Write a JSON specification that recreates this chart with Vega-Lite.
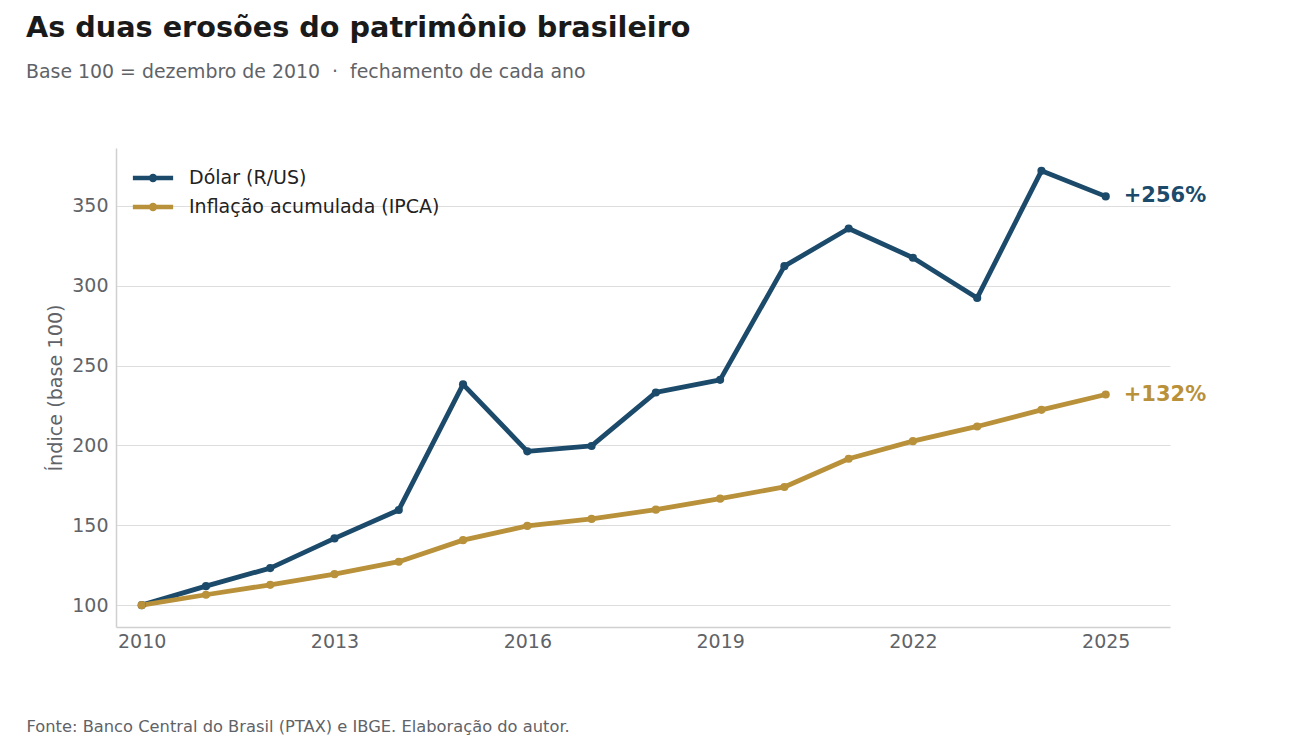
{
  "$schema": "https://vega.github.io/schema/vega-lite/v6.json",
  "width": 1054,
  "height": 479,
  "autosize": {"type": "none"},
  "padding": {"left": 116, "top": 148, "right": 130, "bottom": 119},
  "background": "white",
  "title": {
    "text": "As duas erosões do patrimônio brasileiro",
    "subtitle": "Base 100 = dezembro de 2010 \u00a0·\u00a0 fechamento de cada ano",
    "anchor": "start",
    "frame": "group",
    "dx": -90,
    "offset": 66,
    "font": "DejaVu Sans",
    "fontSize": 28.7,
    "fontWeight": "bold",
    "color": "#1a1a1a",
    "subtitleFont": "DejaVu Sans",
    "subtitleFontSize": 18.9,
    "subtitleColor": "#5f6368",
    "subtitlePadding": 20
  },
  "data": {
    "values": [
      {"ano": 2010, "serie": "Dólar (R/US)", "indice": 100},
      {"ano": 2011, "serie": "Dólar (R/US)", "indice": 111.9},
      {"ano": 2012, "serie": "Dólar (R/US)", "indice": 123.2},
      {"ano": 2013, "serie": "Dólar (R/US)", "indice": 141.8},
      {"ano": 2014, "serie": "Dólar (R/US)", "indice": 159.6},
      {"ano": 2015, "serie": "Dólar (R/US)", "indice": 238.3},
      {"ano": 2016, "serie": "Dólar (R/US)", "indice": 196.3},
      {"ano": 2017, "serie": "Dólar (R/US)", "indice": 199.7},
      {"ano": 2018, "serie": "Dólar (R/US)", "indice": 233.2},
      {"ano": 2019, "serie": "Dólar (R/US)", "indice": 241.1},
      {"ano": 2020, "serie": "Dólar (R/US)", "indice": 312.3},
      {"ano": 2021, "serie": "Dólar (R/US)", "indice": 335.9},
      {"ano": 2022, "serie": "Dólar (R/US)", "indice": 317.6},
      {"ano": 2023, "serie": "Dólar (R/US)", "indice": 292.4},
      {"ano": 2024, "serie": "Dólar (R/US)", "indice": 372.0},
      {"ano": 2025, "serie": "Dólar (R/US)", "indice": 356.0, "rotulo": "+256%"},
      {"ano": 2010, "serie": "Inflação acumulada (IPCA)", "indice": 100},
      {"ano": 2011, "serie": "Inflação acumulada (IPCA)", "indice": 106.5},
      {"ano": 2012, "serie": "Inflação acumulada (IPCA)", "indice": 112.7},
      {"ano": 2013, "serie": "Inflação acumulada (IPCA)", "indice": 119.4},
      {"ano": 2014, "serie": "Inflação acumulada (IPCA)", "indice": 127.2},
      {"ano": 2015, "serie": "Inflação acumulada (IPCA)", "indice": 140.7},
      {"ano": 2016, "serie": "Inflação acumulada (IPCA)", "indice": 149.6},
      {"ano": 2017, "serie": "Inflação acumulada (IPCA)", "indice": 154.0},
      {"ano": 2018, "serie": "Inflação acumulada (IPCA)", "indice": 159.8},
      {"ano": 2019, "serie": "Inflação acumulada (IPCA)", "indice": 166.7},
      {"ano": 2020, "serie": "Inflação acumulada (IPCA)", "indice": 174.0},
      {"ano": 2021, "serie": "Inflação acumulada (IPCA)", "indice": 191.7},
      {"ano": 2022, "serie": "Inflação acumulada (IPCA)", "indice": 202.7},
      {"ano": 2023, "serie": "Inflação acumulada (IPCA)", "indice": 211.9},
      {"ano": 2024, "serie": "Inflação acumulada (IPCA)", "indice": 222.3},
      {"ano": 2025, "serie": "Inflação acumulada (IPCA)", "indice": 231.9, "rotulo": "+132%"}
    ]
  },
  "encoding": {
    "x": {
      "field": "ano",
      "type": "quantitative",
      "scale": {"domain": [2009.6, 2026], "nice": false, "zero": false},
      "axis": {
        "values": [2010, 2013, 2016, 2019, 2022, 2025],
        "format": "d",
        "grid": false,
        "ticks": false,
        "labelPadding": 5,
        "title": "Fonte: Banco Central do Brasil (PTAX) e IBGE. Elaboração do autor.",
        "titleX": -90,
        "titleY": 99,
        "titleAlign": "left",
        "titleAnchor": "start",
        "titleBaseline": "middle",
        "titleFontSize": 16.3,
        "titleFontWeight": "normal",
        "titleColor": "#5f6368"
      }
    },
    "y": {
      "field": "indice",
      "type": "quantitative",
      "scale": {"domain": [86.3, 386.3], "nice": false, "zero": false},
      "axis": {
        "values": [100, 150, 200, 250, 300, 350],
        "grid": true,
        "ticks": false,
        "labelPadding": 8,
        "title": "Índice (base 100)",
        "titleFontSize": 19.2,
        "titleFontWeight": "normal",
        "titleColor": "#5f6368",
        "titlePadding": 6
      }
    },
    "color": {
      "field": "serie",
      "type": "nominal",
      "scale": {
        "domain": ["Dólar (R/US)", "Inflação acumulada (IPCA)"],
        "range": ["#1b4a6b", "#b8913a"]
      },
      "legend": {
        "title": null,
        "orient": "none",
        "legendX": 17,
        "legendY": 10,
        "symbolType": "M-1.5,0L1.5,0M-0.15,0a0.15,0.15 0 1,0 0.3,0a0.15,0.15 0 1,0 -0.3,0",
        "symbolSize": 720,
        "symbolStrokeWidth": 4.4,
        "labelFontSize": 19,
        "labelLimit": 400,
        "labelColor": "#222222",
        "labelOffset": 20,
        "rowPadding": 2,
        "padding": 4
      }
    }
  },
  "layer": [
    {
      "mark": {"type": "line", "strokeWidth": 4.8, "strokeCap": "round", "strokeJoin": "round"}
    },
    {
      "mark": {"type": "circle", "size": 66, "opacity": 1}
    },
    {
      "transform": [{"filter": "isValid(datum.rotulo)"}],
      "mark": {"type": "text", "align": "left", "baseline": "middle", "dx": 18, "fontSize": 21, "fontWeight": "bold"},
      "encoding": {"text": {"field": "rotulo"}}
    }
  ],
  "config": {
    "font": "DejaVu Sans",
    "view": {"stroke": null},
    "axis": {
      "domainColor": "#d0d0d0",
      "domainWidth": 1.5,
      "gridColor": "#dedede",
      "gridWidth": 1.2,
      "labelFontSize": 19,
      "labelColor": "#5f6368",
      "labelFont": "DejaVu Sans",
      "titleFont": "DejaVu Sans"
    },
    "legend": {"labelFont": "DejaVu Sans"}
  }
}
